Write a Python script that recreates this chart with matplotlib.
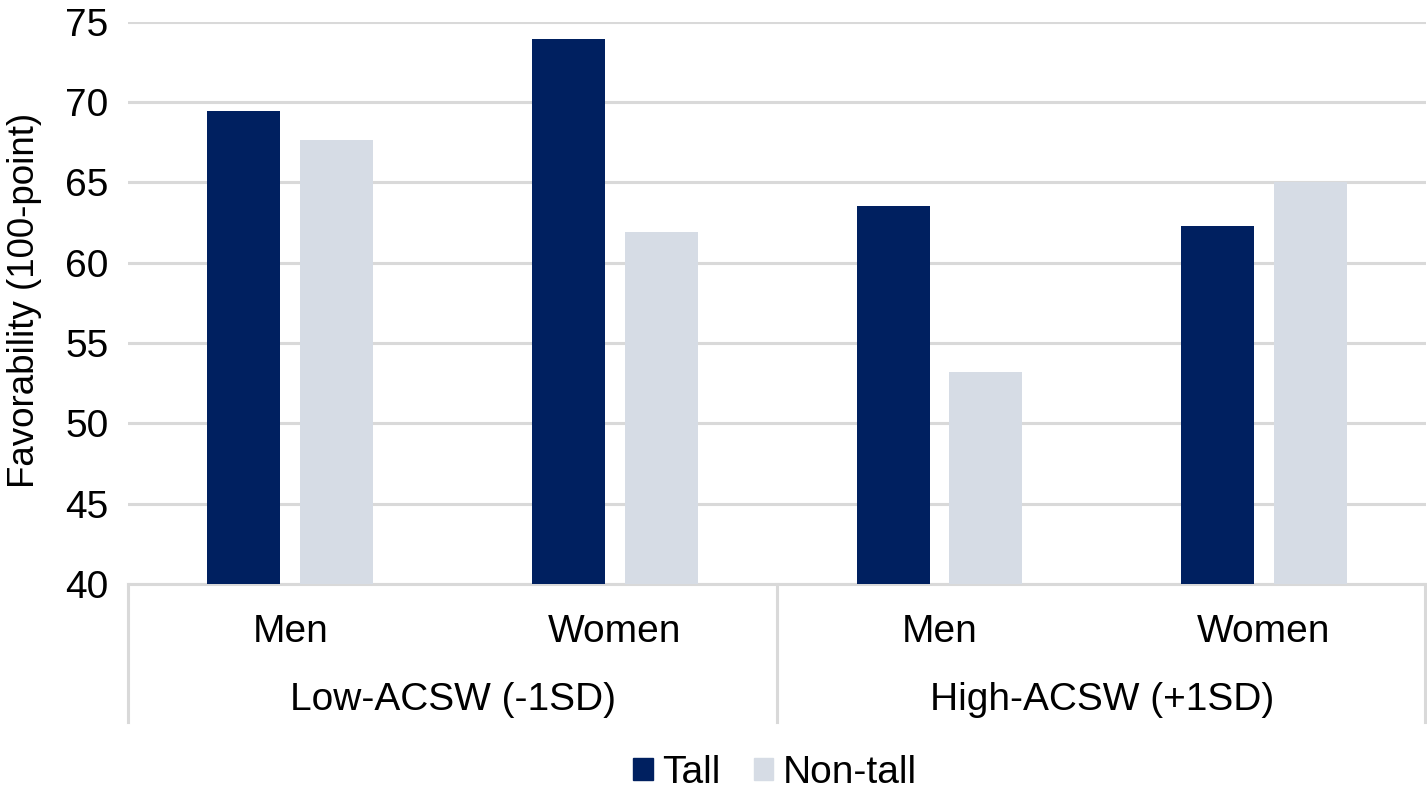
import matplotlib
matplotlib.use("Agg")
import matplotlib.pyplot as plt
import numpy as np
from matplotlib.patches import Patch
from matplotlib.lines import Line2D
import matplotlib.transforms as mtrans

plt.rcParams['font.family'] = ['Liberation Sans', 'DejaVu Sans']

groups = ["Low-ACSW (-1SD)", "High-ACSW (+1SD)"]
subcats = ["Men", "Women", "Men", "Women"]
series_names = ["Tall", "Non-tall"]
tall = [69.4, 73.9, 63.5, 62.3]
nontall = [67.6, 61.9, 53.2, 65.0]
yticks = [40, 45, 50, 55, 60, 65, 70, 75]

c_tall = "#002060"
c_non = "#D6DCE5"
grid_c = "#D9D9D9"

W, H = 1427, 799
fig = plt.figure(figsize=(W/100, H/100), dpi=100)
ax = fig.add_axes([128/W, 1-584/H, (W-128)/W - 0.0005, (584-21.5)/H])

x = np.arange(len(subcats))
bw = 0.225
off = 0.143
ax.bar(x - off, np.array(tall) - 40, bw, bottom=40, color=c_tall, zorder=3, label=series_names[0])
ax.bar(x + off, np.array(nontall) - 40, bw, bottom=40, color=c_non, zorder=3, label=series_names[1])

ax.set_xlim(-0.5, len(subcats) - 0.5)
ax.set_ylim(40, 75)
ax.set_yticks(yticks)
ax.set_yticklabels([str(t) for t in yticks], fontsize=28)
ax.tick_params(axis='y', length=0, pad=14)
ax.set_xticks([])
ax.grid(axis='y', color=grid_c, linewidth=2.2, zorder=0)
for s in ['top', 'right', 'left']:
    ax.spines[s].set_visible(False)
ax.spines['bottom'].set_color(grid_c)
ax.spines['bottom'].set_linewidth(2.2)
ax.spines['bottom'].set_zorder(1)

ax.set_ylabel("Favorability (100-point)", fontsize=26.5)
ax.yaxis.set_label_coords(-0.066, 0.505)

# category labels
trans = mtrans.blended_transform_factory(ax.transData, fig.transFigure)
for i, lab in enumerate(subcats):
    ax.text(i, 1 - 632/H, lab, transform=trans, ha='center', va='center', fontsize=28)
for g, lab in enumerate(groups):
    ax.text(g * 2 + 0.5, 1 - 700/H, lab, transform=trans, ha='center', va='center', fontsize=28)
# separators
for xs in [-0.5, 1.5, 3.5]:
    xx = xs if xs < 3.5 else 3.497
    fig.add_artist(Line2D([xx, xx], [1 - 584/H, 1 - 722/H], transform=trans, color=grid_c, linewidth=2.2))

handles = [Patch(color=c_tall, label="Tall"), Patch(color=c_non, label="Non-tall")]
fig.legend(handles=handles, loc='center', bbox_to_anchor=(775/W, 1 - 773/H), ncol=2,
           frameon=False, fontsize=28, handlelength=0.5, handleheight=0.5,
           handletextpad=0.25, columnspacing=0.85)

fig.savefig("out.png", dpi=100)
